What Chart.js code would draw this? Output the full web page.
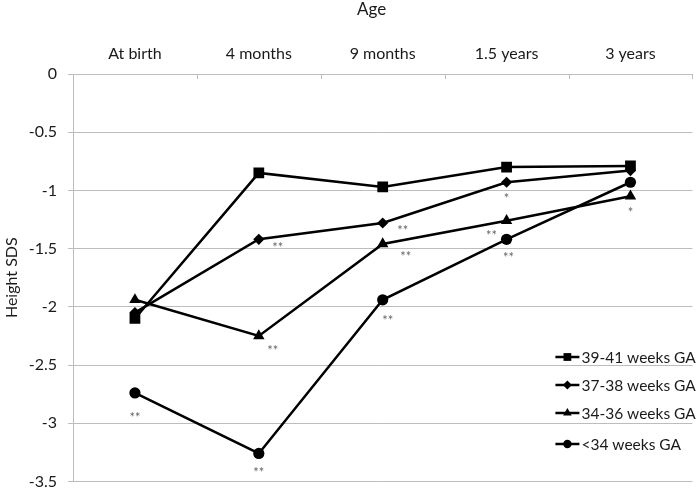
<!DOCTYPE html>
<html><head><meta charset="utf-8">
<script src="https://cdn.jsdelivr.net/npm/chart.js@4.4.0/dist/chart.umd.min.js"></script>
<style>html,body{margin:0;padding:0;background:#fff;} canvas{display:block;}</style>
</head><body>
<canvas id="c" width="700" height="502"></canvas>
<script>
// ---- data ----
const categories = ['At birth', '4 months', '9 months', '1.5 years', '3 years'];
const seriesNames = ['39-41 weeks GA', '37-38 weeks GA', '34-36 weeks GA', '<34 weeks GA'];
const ga39_41 = [-2.10, -0.85, -0.97, -0.80, -0.79];
const ga37_38 = [-2.05, -1.42, -1.28, -0.93, -0.83];
const ga34_36 = [-1.94, -2.25, -1.46, -1.26, -1.05];
const gaLt34  = [-2.74, -3.26, -1.94, -1.42, -0.93];
const sig39_41 = ['', '', '', '', ''];
const sig37_38 = ['', '**', '**', '*', ''];
const sig34_36 = ['', '**', '**', '**', '*'];
const sigLt34  = ['**', '**', '**', '**', ''];
const xTitle = 'Age';
const yTitle = 'Height SDS';
const yMin = -3.5, yMax = 0, yStep = 0.5;

// ---- styling ----
const FONT = 'Lato, "Open Sans", sans-serif';
const TXT = '#1a1a1a';
const GRID = '#bdbdbd';
const markers = [
  {style: 'rect', r: 7.6, lr: 5.5},
  {style: 'rectRot', r: 5.6, lr: 4.5},
  {style: 'triangle', r: 6.6, lr: 5},
  {style: 'circle', r: 5.6, lr: 4.2}
];
// label offsets (px) relative to the point, per series / index
const sigOffsets = [
  [[0,0],[0,0],[0,0],[0,0],[0,0]],
  [[0,0],[19,6],[20,5],[0,14],[0,0]],
  [[0,0],[14,12],[23,10],[-15,12],[0,14]],
  [[0,22],[0,16],[5,18],[2,16],[0,0]]
];
const sigs = [sig39_41, sig37_38, sig34_36, sigLt34];
const values = [ga39_41, ga37_38, ga34_36, gaLt34];

function drawMarker(ctx, style, r, x, y) {
  ctx.beginPath();
  if (style === 'rect') {
    const s = r * Math.SQRT1_2;
    ctx.rect(x - s, y - s, 2 * s, 2 * s);
  } else if (style === 'rectRot') {
    ctx.moveTo(x, y - r); ctx.lineTo(x + r, y); ctx.lineTo(x, y + r); ctx.lineTo(x - r, y); ctx.closePath();
  } else if (style === 'triangle') {
    ctx.moveTo(x, y - r);
    ctx.lineTo(x + r * Math.sin(2 * Math.PI / 3), y - r * Math.cos(2 * Math.PI / 3));
    ctx.lineTo(x + r * Math.sin(4 * Math.PI / 3), y - r * Math.cos(4 * Math.PI / 3));
    ctx.closePath();
  } else {
    ctx.arc(x, y, r, 0, Math.PI * 2);
  }
  ctx.fill();
}

const extras = {
  id: 'extras',
  afterDatasetsDraw(chart) {
    const ctx = chart.ctx;
    const xs = chart.scales.x, ys = chart.scales.y;
    const ca = chart.chartArea;
    ctx.save();
    // inward ticks on top axis at category boundaries
    ctx.strokeStyle = GRID; ctx.lineWidth = 1;
    for (let i = 0; i <= categories.length; i++) {
      const px = Math.round(xs.getPixelForValue(i - 0.5)) + 0.5;
      ctx.beginPath(); ctx.moveTo(px, ca.top); ctx.lineTo(px, ca.top + 5); ctx.stroke();
    }
    // axis title on top
    ctx.fillStyle = TXT;
    ctx.font = '17px ' + FONT;
    ctx.textAlign = 'center'; ctx.textBaseline = 'middle';
    ctx.fillText(xTitle, (ca.left + ca.right) / 2 - 11, 10);
    // significance marks
    ctx.fillStyle = '#666';
    ctx.font = '13px ' + FONT;
    sigs.forEach((arr, si) => {
      arr.forEach((t, i) => {
        if (!t) return;
        const px = xs.getPixelForValue(i);
        const py = ys.getPixelForValue(values[si][i]);
        ctx.fillText(t, px + sigOffsets[si][i][0], py + sigOffsets[si][i][1] + 3);
      });
    });
    // legend
    const lx = ca.right - 137;
    const lys = [357, 385, 413, 444];
    ctx.font = '15.5px ' + FONT;
    ctx.textAlign = 'left';
    seriesNames.forEach((n, i) => {
      const y = lys[i];
      ctx.strokeStyle = '#000'; ctx.lineWidth = 2.5;
      ctx.beginPath(); ctx.moveTo(lx, y); ctx.lineTo(lx + 24, y); ctx.stroke();
      ctx.fillStyle = '#000';
      drawMarker(ctx, markers[i].style, markers[i].lr, lx + 12, y);
      ctx.fillStyle = TXT;
      ctx.fillText(n, lx + 26, y + 1);
    });
    ctx.restore();
  }
};

const datasets = values.map((v, i) => ({
  label: seriesNames[i],
  data: v,
  borderColor: '#000',
  backgroundColor: '#000',
  borderWidth: 2.5,
  pointStyle: markers[i].style,
  pointRadius: markers[i].r,
  pointBorderWidth: 0,
  tension: 0,
  fill: false
}));

new Chart(document.getElementById('c'), {
  type: 'line',
  data: {labels: categories, datasets},
  options: {
    responsive: false,
    animation: false,
    devicePixelRatio: 1,
    layout: {padding: {top: 0, right: 5, bottom: 10, left: 0}},
    plugins: {legend: {display: false}, tooltip: {enabled: false}},
    scales: {
      x: {
        position: 'top',
        offset: true,
        grid: {display: true, drawOnChartArea: false, drawTicks: false, offset: true, color: GRID},
        border: {display: true, color: GRID, width: 1},
        ticks: {color: TXT, font: {family: FONT, size: 16}, padding: 11, maxRotation: 0},
        title: {display: false},
        afterFit(s) { s.height = 74; }
      },
      y: {
        min: yMin, max: yMax,
        ticks: {stepSize: yStep, color: TXT, font: {family: FONT, size: 16}, padding: 11,
                callback: v => String(Math.round(v * 100) / 100)},
        grid: {color: GRID, tickLength: 5, drawTicks: true},
        border: {display: true, color: GRID, width: 1},
        title: {display: true, text: yTitle, color: TXT, font: {family: FONT, size: 16}, padding: {top: 2, bottom: 0}},
        afterFit(s) { s.width = 73; }
      }
    }
  },
  plugins: [extras]
});
</script>
</body></html>
